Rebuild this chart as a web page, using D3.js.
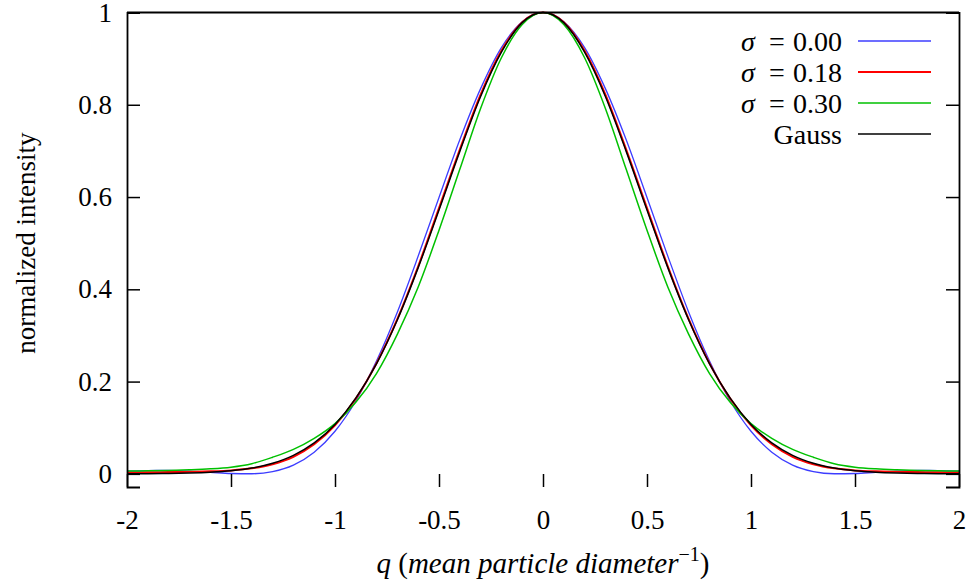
<!DOCTYPE html>
<html>
<head>
<meta charset="utf-8">
<script src="https://cdn.jsdelivr.net/npm/d3@7"></script>
<style>
  body { margin: 0; background: #fff; }
  svg { display: block; }
</style>
</head>
<body>
<script>
// q values (mean particle diameter^-1)
let qValues = [-2, -1.9, -1.8, -1.7, -1.6, -1.5, -1.4, -1.3, -1.2, -1.1, -1, -0.9, -0.8, -0.7, -0.6, -0.5, -0.4, -0.3, -0.2, -0.1,
  0, 0.1, 0.2, 0.3, 0.4, 0.5, 0.6, 0.7, 0.8, 0.9, 1, 1.1, 1.2, 1.3, 1.4, 1.5, 1.6, 1.7, 1.8, 1.9, 2];

// normalized intensity
let sigma000 = [0.0058, 0.0071, 0.0073, 0.0060, 0.0035, 0.0008, 0.0002, 0.0049, 0.0190, 0.0469, 0.0924, 0.158, 0.245, 0.351, 0.472, 0.599, 0.724, 0.835, 0.924, 0.980,
  1, 0.980, 0.924, 0.835, 0.724, 0.599, 0.472, 0.351, 0.245, 0.158, 0.0924, 0.0469, 0.0190, 0.0049, 0.0002, 0.0008, 0.0035, 0.0060, 0.0073, 0.0071, 0.0058];
let sigma018 = [0.003, 0.0033, 0.0038, 0.0045, 0.0055, 0.0075, 0.012, 0.021, 0.037, 0.064, 0.105, 0.163, 0.240, 0.336, 0.450, 0.576, 0.703, 0.822, 0.917, 0.979,
  1, 0.979, 0.917, 0.822, 0.703, 0.576, 0.450, 0.336, 0.240, 0.163, 0.105, 0.064, 0.037, 0.021, 0.012, 0.0075, 0.0055, 0.0045, 0.0038, 0.0033, 0.003];
let sigma030 = [0.006, 0.0066, 0.0075, 0.0088, 0.0108, 0.0145, 0.022, 0.036, 0.053, 0.077, 0.109, 0.155, 0.218, 0.303, 0.405, 0.528, 0.660, 0.792, 0.902, 0.974,
  1, 0.974, 0.902, 0.792, 0.660, 0.528, 0.405, 0.303, 0.218, 0.155, 0.109, 0.077, 0.053, 0.036, 0.022, 0.0145, 0.0108, 0.0088, 0.0075, 0.0066, 0.006];
let gauss = [0.0001, 0.0003, 0.0007, 0.0016, 0.0033, 0.0065, 0.0125, 0.023, 0.040, 0.067, 0.107, 0.164, 0.239, 0.334, 0.447, 0.572, 0.699, 0.818, 0.914, 0.978,
  1, 0.978, 0.914, 0.818, 0.699, 0.572, 0.447, 0.334, 0.239, 0.164, 0.107, 0.067, 0.040, 0.023, 0.0125, 0.0065, 0.0033, 0.0016, 0.0007, 0.0003, 0.0001];

let seriesNames = ["0.00", "0.18", "0.30", "Gauss"];
let xTicks = [-2, -1.5, -1, -0.5, 0, 0.5, 1, 1.5, 2];
let yTicks = [0, 0.2, 0.4, 0.6, 0.8, 1];

let width = 972, height = 583;
let plotLeft = 127, plotRight = 959, plotTop = 12.5, plotBottom = 487;

// pick the first serif face that is really installed
let ctx = document.createElement("canvas").getContext("2d");
function hasFont(name) {
  let s = "normalized intensity 0.18";
  ctx.font = "40px monospace";
  let w0 = ctx.measureText(s).width;
  ctx.font = `40px "${name}", monospace`;
  return ctx.measureText(s).width !== w0;
}
let serifFace = ["Liberation Serif", "Times New Roman", "Tinos", "Nimbus Roman", "DejaVu Serif", "Noto Serif"]
  .find(hasFont);
let fontFamily = serifFace ? `"${serifFace}", serif` : "serif";

let series = [
  { name: seriesNames[0], values: sigma000, color: "#3c3cff", lw: 1.3 },
  { name: seriesNames[1], values: sigma018, color: "#ff0000", lw: 2 },
  { name: seriesNames[2], values: sigma030, color: "#00c000", lw: 1.5 },
  { name: seriesNames[3], values: gauss, color: "#000000", lw: 1.5 }
];

let svg = d3.select("body").append("svg")
  .attr("width", width)
  .attr("height", height)
  .style("font-family", fontFamily);

let x = d3.scaleLinear().domain([-2, 2]).range([plotLeft, plotRight]);
let y = d3.scaleLinear().domain([-0.0285, 1]).range([plotBottom, plotTop]);

// curves
let line = d3.line()
  .x((d, i) => x(qValues[i]))
  .y(d => y(d))
  .curve(d3.curveMonotoneX);

svg.append("g")
  .selectAll("path")
  .data(series)
  .enter()
  .append("path")
  .attr("fill", "none")
  .attr("stroke", d => d.color)
  .attr("stroke-width", d => d.lw)
  .attr("d", d => line(d.values));

// axes, ticks pointing inward
svg.append("g")
  .attr("transform", `translate(${plotLeft},0)`)
  .call(d3.axisLeft(y).tickValues(yTicks).tickSize(-13).tickPadding(15).tickFormat(d => String(d)));
svg.append("g")
  .attr("transform", `translate(${plotRight},0)`)
  .call(d3.axisRight(y).tickValues(yTicks).tickSize(-13).tickFormat(""));
let xAxis = svg.append("g")
  .attr("transform", `translate(0,${plotBottom})`)
  .call(d3.axisBottom(x).tickValues(xTicks).tickSize(-13).tickPadding(23).tickFormat(d => String(d)));
xAxis.select(".domain").remove();

svg.selectAll("g").attr("font-family", null);
svg.selectAll(".tick text")
  .style("font-family", fontFamily)
  .attr("font-size", 27)
  .attr("fill", "#000");
svg.selectAll(".tick line").attr("stroke", "#000").attr("stroke-width", 1.5);
svg.selectAll(".domain").attr("stroke", "#000").attr("stroke-width", 1.8);

// top border
svg.append("line")
  .attr("x1", plotLeft).attr("x2", plotRight)
  .attr("y1", plotTop).attr("y2", plotTop)
  .attr("stroke", "#000").attr("stroke-width", 1.8);

// axis titles
svg.append("text")
  .attr("transform", `translate(26,${y(0.5)}) rotate(-90)`)
  .attr("text-anchor", "middle")
  .attr("dy", "0.35em")
  .attr("font-size", 27)
  .text("normalized intensity");

let xt = svg.append("text")
  .attr("x", x(0))
  .attr("y", 573)
  .attr("text-anchor", "middle")
  .attr("font-size", 29);
xt.append("tspan").attr("font-style", "italic").text("q");
xt.append("tspan").text(" (");
xt.append("tspan").attr("font-style", "italic").text("mean particle diameter");
xt.append("tspan").attr("font-size", 20).attr("dy", -12).text("\u22121");
xt.append("tspan").attr("dy", 12).text(")");

// legend
let legend = svg.append("g").attr("font-size", 28);
series.forEach((s, i) => {
  let ly = 41 + i * 31;
  if (s.name === "Gauss") {
    legend.append("text")
      .attr("x", 842).attr("y", ly).attr("dy", "0.35em")
      .attr("text-anchor", "end")
      .text("Gauss");
  } else {
    legend.append("text")
      .attr("x", 748).attr("y", ly).attr("dy", "0.35em")
      .attr("text-anchor", "middle")
      .attr("font-style", "italic")
      .text("\u03c3");
    legend.append("text")
      .attr("x", 777).attr("y", ly).attr("dy", "0.35em")
      .attr("text-anchor", "middle")
      .text("=");
    legend.append("text")
      .attr("x", 842).attr("y", ly).attr("dy", "0.35em")
      .attr("text-anchor", "end")
      .text(s.name);
  }
  legend.append("line")
    .attr("x1", 858).attr("x2", 931)
    .attr("y1", ly).attr("y2", ly)
    .attr("stroke", s.color)
    .attr("stroke-width", s.lw);
});
</script>
</body>
</html>
